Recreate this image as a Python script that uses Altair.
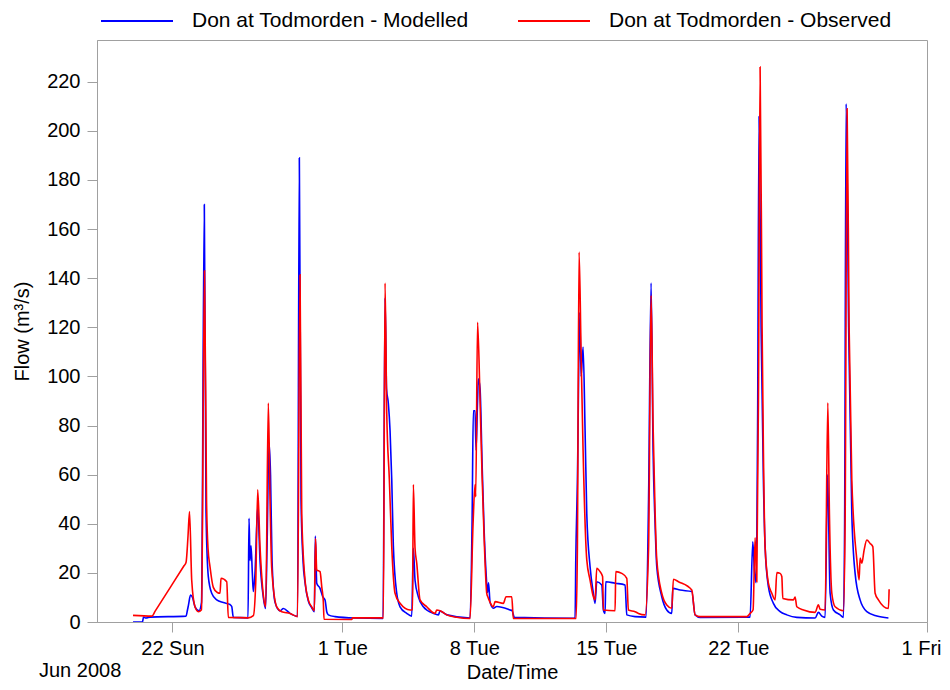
import altair as alt
import pandas as pd

# time in days since 2008-06-18 00:00, flow in m3/s
mod_day = [1.91, 2.41, 2.465, 2.60, 2.81, 4.719, 4.798, 4.851, 4.957, 5.063, 5.196, 5.408, 5.541, 5.689, 5.779,
           5.901, 6.081, 6.346, 6.696, 7.052, 7.142, 7.227, 8.006, 8.059, 8.112, 8.165, 8.234, 8.287, 8.377, 8.520,
           8.642, 8.817, 8.934, 9.013, 9.119, 9.199, 9.279, 9.438, 9.703, 9.878, 10.233, 10.630, 10.726, 10.816,
           10.922, 11.028, 11.203, 11.383, 11.521, 11.574, 11.648, 11.823, 11.967, 12.089, 12.179, 12.264, 12.619,
           13.679, 15.164, 15.270, 15.349, 15.445, 15.535, 15.625, 15.710, 15.890, 16.065, 16.420, 16.685, 16.770,
           16.860, 17.035, 17.300, 17.831, 18.096, 18.186, 18.276, 18.557, 19.776, 19.883, 19.951, 20.041, 20.094,
           20.174, 20.217, 20.307, 20.413, 20.519, 20.625, 20.704, 20.757, 20.837, 21.012, 21.192, 21.897, 22.003,
           22.125, 25.344, 25.381, 25.466, 25.593, 25.662, 25.768, 25.874, 25.964, 26.139, 26.314, 26.404, 26.494,
           26.759, 26.844, 26.934, 26.971, 27.464, 27.995, 28.085, 28.525, 29.108, 29.240, 29.373, 29.479, 29.585,
           29.675, 29.940, 30.205, 30.471, 30.524, 30.911, 31.531, 31.706, 31.971, 34.622, 34.765, 34.850, 34.940,
           35.020, 35.099, 35.205, 35.327, 35.417, 35.592, 35.857, 36.213, 36.568, 37.098, 38.068, 38.243, 38.423,
           38.599, 38.731, 38.864, 39.039, 39.394, 39.569, 39.633, 39.712, 39.845, 40.014, 40.189, 40.454, 40.810,
           41.340, 41.955]
mod_flow = [0, 0, 2.0, 1.6, 2.0, 2.4, 5, 7, 11, 10, 6.2, 4.6, 8, 170, 45,
            18.5, 11.7, 9.0, 7.9, 7.1, 6.3, 1.9, 1.7, 42.2, 25, 31, 20, 12.4, 20, 47,
            25, 10, 5.5, 30, 73, 60, 25, 8, 4.5, 5.5, 3.5, 2.3, 189, 50,
            25, 16, 8.5, 5.8, 4.2, 35, 15.8, 13.7, 10.3, 9.0, 4.2, 2.9, 2.2,
            1.6, 1.4, 132, 95, 89, 78, 58, 31, 11.7, 6.2, 3.5, 2.4, 30,
            17, 10.3, 6.2, 3.5, 2.9, 4.5, 4.2, 2.9, 1.6, 40, 86, 86, 70,
            90, 99, 95, 65, 38, 20, 12, 16, 8, 5.6, 6.3, 4.9, 4.6,
            1.9, 1.5, 25, 57, 126, 100, 112, 78, 44, 22.5, 11.7, 7.6, 16.4,
            15.1, 4.9, 3.5, 16.4, 15.8, 15.1, 2.9, 2.2, 2.0, 50, 138, 70, 40,
            22.5, 10.3, 4.9, 3.5, 13.7, 13.0, 12.4, 2.9, 1.9, 2.0, 32.7, 21, 16,
            80, 206, 120, 58, 30.7, 14.4, 7.6, 4.2, 2.9, 1.9, 1.6, 3.9, 2.4,
            1.9, 60, 11.7, 4.9, 2.9, 1.9, 40, 211, 120, 44, 19.8, 9, 4.2,
            2.4, 1.6]

obs_day = [1.909, 2.916, 3.075, 3.870, 4.613, 4.719, 4.825, 4.904, 5.021, 5.196, 5.371, 5.541, 5.700, 5.806,
           5.885, 5.991, 6.166,
           6.378, 6.521, 6.574, 6.877, 6.961, 8.022, 8.287, 8.414, 8.520, 8.642, 8.817, 8.944, 9.082, 9.172, 9.262,
           9.528, 9.793, 10.233, 10.630, 10.763, 10.853, 11.028, 11.203, 11.383, 11.521, 11.584, 11.648, 11.823,
           11.914, 11.998, 12.035, 13.504, 13.546, 15.180, 15.270, 15.360, 15.498, 15.625, 15.800, 16.065, 16.595,
           16.728, 16.770, 16.860, 16.951, 17.125, 17.481, 17.921, 18.011, 18.186, 18.541, 19.071, 19.776, 19.936,
           20.041, 20.078, 20.174, 20.307, 20.413, 20.519, 20.662, 20.731, 20.837, 21.012, 21.102, 21.542, 21.685,
           21.987, 22.072, 25.397, 25.466, 25.556, 25.662, 25.768, 25.964, 26.139, 26.314, 26.404, 26.494, 26.669,
           26.802, 26.844, 27.464, 27.501, 27.819, 28.085, 28.170, 28.525, 28.700, 29.055, 29.240, 29.373, 29.479,
           29.585, 29.675, 29.940, 30.205, 30.471, 30.556, 30.821, 31.531, 31.706, 31.971, 34.447, 34.622, 34.781,
           34.887, 34.977, 35.072, 35.152, 35.258, 35.327, 35.417, 35.592, 35.773, 35.948, 36.038, 36.213, 36.303,
           36.356, 36.918, 37.008, 37.098, 37.452, 38.068, 38.243, 38.333, 38.599, 38.742, 38.827, 38.954, 39.129,
           39.569, 39.659, 39.765, 39.871, 40.014, 40.280, 40.401, 40.454, 40.545, 40.666, 40.810, 40.984, 41.127,
           41.250, 41.424, 41.955, 41.992]
obs_flow = [2.7, 2.4, 4.3, 13.9, 22.9, 24.2, 35, 45, 17, 6.2, 4.2, 5, 143, 50,
            30, 22.5, 14.1,
            12, 11.7, 17.8, 16.4, 1.9, 1.7, 2.6, 16, 53.8, 30.7, 11, 6.2, 89.2, 50, 22,
            6.2, 4.2, 3.5, 2.2, 141.4, 44, 17.1, 9.0, 6.2, 4.6, 34, 21.2, 20.5,
            14.4, 8.3, 1.1, 1.0, 1.7, 1.7, 138, 85, 58, 30.7, 11.7, 7.6, 4.9,
            5, 56, 30, 23.9, 9, 6.2, 3.5, 4.9, 4.6, 2.9, 1.9, 1.4, 40,
            56, 51, 122, 90, 60, 35, 11.7, 10, 8, 6.2, 8.3, 7.6, 10.3,
            10.3, 1.4, 1.4, 30, 150.6, 110, 70, 25.3, 17.1, 10.3, 9, 21.9, 20.5,
            18.5, 4.9, 4.6, 20.5, 19.8, 17.8, 4.9, 4.2, 3.5, 2.9, 30, 133, 80,
            45, 25.3, 11.7, 6.9, 5.6, 17.4, 16.4, 13, 2.9, 2.2, 2.2, 3.5, 5,
            34.3, 16.4, 100, 226, 120, 70, 30.7, 15.8, 11.7, 9, 20.1, 19.8, 18.5,
            9.6, 9, 10.2, 6.2, 4.9, 3.9, 7, 5.2, 4.9, 89.3, 44, 11.7, 6.2,
            4.6, 40, 209, 120, 57.9, 25.3, 17.1, 26, 23.9, 29.3, 33.4, 32, 30.7,
            11.7, 9, 5.5, 13.3]

series_names = ["Don at Todmorden - Modelled", "Don at Todmorden - Observed"]
series_colors = ["#0000ff", "#ff0000"]
y_ticks = [0, 20, 40, 60, 80, 100, 120, 140, 160, 180, 200, 220]

start = pd.Timestamp("2008-06-18")
rows = []
for name, days, flows in [(series_names[0], mod_day, mod_flow), (series_names[1], obs_day, obs_flow)]:
    for i, (d, f) in enumerate(zip(days, flows)):
        t = start + pd.to_timedelta(d, unit="D")
        rows.append({"time": t.strftime("%Y-%m-%dT%H:%M:%S"), "flow": f, "series": name, "order": i})
df = pd.DataFrame(rows)

FONT = "Liberation Sans"

tick_dates = [alt.DateTime(year=2008, month=6, date=22), alt.DateTime(year=2008, month=7, date=1),
              alt.DateTime(year=2008, month=7, date=8), alt.DateTime(year=2008, month=7, date=15),
              alt.DateTime(year=2008, month=7, date=22), alt.DateTime(year=2008, month=8, date=1)]

lines = alt.Chart(df).mark_line(strokeWidth=1.6, clip=True, interpolate="monotone").encode(
    x=alt.X("time:T",
            scale=alt.Scale(domain=[alt.DateTime(year=2008, month=6, date=18),
                                    alt.DateTime(year=2008, month=8, date=1)], nice=False),
            axis=alt.Axis(values=tick_dates, labelExpr="timeFormat(datum.value, '%-d %a')",
                          title="Date/Time", grid=False, labelFlush=True, labelFlushOffset=14,
                          tickSize=10, labelPadding=6, titlePadding=4)),
    y=alt.Y("flow:Q", scale=alt.Scale(domain=[0, 237], nice=False),
            axis=alt.Axis(values=y_ticks, title="Flow (m³/s)", grid=False, tickSize=10,
                          labelPadding=7, titlePadding=14)),
    color=alt.Color("series:N", scale=alt.Scale(domain=series_names, range=series_colors),
                    legend=alt.Legend(title=None, orient="none", legendX=3, legendY=-56,
                                      direction="horizontal", symbolType="stroke", symbolSize=5184,
                                      symbolStrokeWidth=2, labelFontSize=21, labelFont=FONT,
                                      labelColor="#000000", labelOffset=18, columnPadding=45,
                                      labelLimit=600, padding=0)),
    order="order:Q",
)

jun = alt.Chart(pd.DataFrame({"t": ["Jun 2008"]})).mark_text(
    align="left", baseline="middle", fontSize=20, font=FONT, color="#000000"
).encode(text="t:N", x=alt.value(-58), y=alt.value(631))

chart = alt.layer(lines, jun).properties(
    width=830, height=582,
    autosize=alt.AutoSizeParams(type="none"),
    padding={"left": 89, "top": 32, "right": 15, "bottom": 60},
).configure_view(stroke="#a0a0a0", strokeWidth=1).configure_axis(
    labelFont=FONT, titleFont=FONT, labelFontSize=20, titleFontSize=20,
    labelColor="#000000", titleColor="#000000", titleFontWeight="normal",
    domainColor="#a0a0a0", tickColor="#a0a0a0",
)

chart.save("out.html", embed_options={"renderer": "svg", "actions": False})
